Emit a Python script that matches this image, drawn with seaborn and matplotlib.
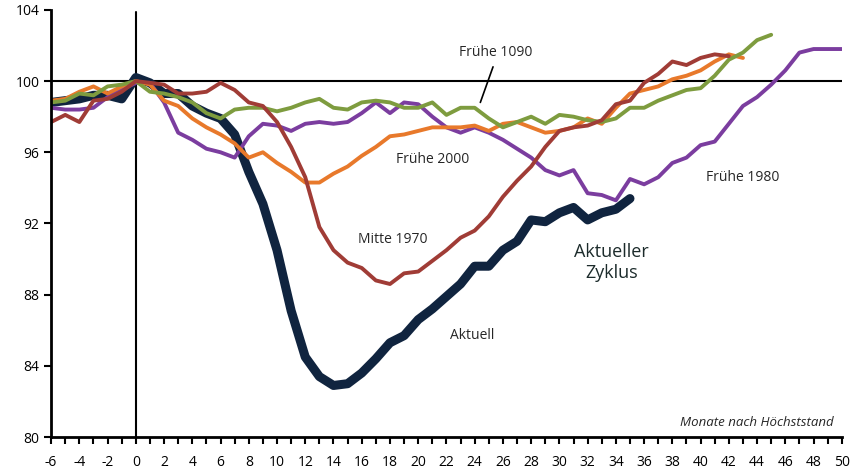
import numpy as np
import pandas as pd
import matplotlib
matplotlib.use("Agg")
import matplotlib.pyplot as plt
import seaborn as sns
from matplotlib.ticker import MultipleLocator

# months after peak
months_aktuell = list(range(-6, 36))
aktuell = [98.8, 98.9, 99.0, 99.2, 99.2, 99.0, 100.2, 99.9, 99.3, 99.3, 98.6, 98.2,
           97.9, 97.0, 94.9, 93.1, 90.5, 87.1, 84.5, 83.4, 82.9, 83.0, 83.6, 84.4,
           85.3, 85.7, 86.6, 87.2, 87.9, 88.6, 89.6, 89.6, 90.5, 91.0, 92.2, 92.1,
           92.6, 92.9, 92.2, 92.6, 92.8, 93.4]

months_1970 = list(range(-6, 43))
mitte_1970 = [97.7, 98.1, 97.7, 98.9, 99.0, 99.4, 100.0, 99.9, 99.8, 99.3, 99.3, 99.4,
              99.9, 99.5, 98.8, 98.6, 97.7, 96.3, 94.6, 91.8, 90.5, 89.8, 89.5, 88.8,
              88.6, 89.2, 89.3, 89.9, 90.5, 91.2, 91.6, 92.4, 93.5, 94.4, 95.2, 96.3,
              97.2, 97.4, 97.5, 97.8, 98.7, 98.9, 99.9, 100.4, 101.1, 100.9, 101.3,
              101.5, 101.4]

months_1980 = list(range(-6, 51))
fruehe_1980 = [98.5, 98.4, 98.4, 98.5, 99.1, 99.5, 99.9, 99.9, 98.8, 97.1, 96.7, 96.2,
               96.0, 95.7, 96.9, 97.6, 97.5, 97.2, 97.6, 97.7, 97.6, 97.7, 98.2, 98.8,
               98.2, 98.8, 98.7, 98.0, 97.4, 97.1, 97.4, 97.1, 96.7, 96.2, 95.7, 95.0,
               94.7, 95.0, 93.7, 93.6, 93.3, 94.5, 94.2, 94.6, 95.4, 95.7, 96.4, 96.6,
               97.6, 98.6, 99.1, 99.8, 100.6, 101.6, 101.8, 101.8, 101.8]

months_1090 = list(range(-6, 46))
fruehe_1090 = [98.8, 98.9, 99.3, 99.2, 99.7, 99.8, 100.0, 99.4, 99.3, 99.1, 98.8, 98.2,
               97.9, 98.4, 98.5, 98.5, 98.3, 98.5, 98.8, 99.0, 98.5, 98.4, 98.8, 98.9,
               98.8, 98.5, 98.5, 98.8, 98.1, 98.5, 98.5, 97.9, 97.4, 97.7, 98.0, 97.6,
               98.1, 98.0, 97.8, 97.7, 97.9, 98.5, 98.5, 98.9, 99.2, 99.5, 99.6, 100.3,
               101.2, 101.6, 102.3, 102.6]

months_2000 = list(range(-6, 44))
fruehe_2000 = [98.9, 99.0, 99.4, 99.7, 99.3, 99.7, 100.0, 99.8, 98.9, 98.6, 97.9, 97.4,
               97.0, 96.5, 95.7, 96.0, 95.4, 94.9, 94.3, 94.3, 94.8, 95.2, 95.8, 96.3,
               96.9, 97.0, 97.2, 97.4, 97.4, 97.4, 97.5, 97.2, 97.6, 97.7, 97.4, 97.1,
               97.2, 97.4, 97.9, 97.6, 98.5, 99.3, 99.5, 99.7, 100.1, 100.3, 100.6,
               101.1, 101.5, 101.3]

x_ticks = list(range(-6, 51, 2))
y_ticks = [80, 84, 88, 92, 96, 100, 104]

series = [
    ("Aktuell", months_aktuell, aktuell, "#10243f", 6.5),
    ("Frühe 1980", months_1980, fruehe_1980, "#7b3d9f", 2.8),
    ("Frühe 2000", months_2000, fruehe_2000, "#e8792b", 2.8),
    ("Frühe 1090", months_1090, fruehe_1090, "#7e9c3f", 2.8),
    ("Mitte 1970", months_1970, mitte_1970, "#a03c36", 2.8),
]

sns.set_style("white")
plt.rcParams["font.family"] = ["Open Sans", "DejaVu Sans"]

fig = plt.figure(figsize=(8.52, 4.70), dpi=100)
ax = fig.add_axes([0.060, 0.070, 0.928, 0.909])

for name, xs, ys, color, lw in series:
    df = pd.DataFrame({"monat": xs, "wert": ys})
    sns.lineplot(data=df, x="monat", y="wert", ax=ax, color=color, linewidth=lw,
                 solid_joinstyle="round", solid_capstyle="round")

ax.axhline(100, color="black", linewidth=1.5, zorder=1)
ax.axvline(0, ymin=0, ymax=0.995, color="black", linewidth=1.5, zorder=1)

ax.set_xlim(-6, 50)
ax.set_ylim(80, 104)
ax.set_xticks(x_ticks)
ax.set_xticklabels([str(t) for t in x_ticks])
ax.xaxis.set_minor_locator(MultipleLocator(1))
ax.set_yticks(y_ticks)
ax.tick_params(axis="both", which="both", direction="out", length=5, width=1.5,
               labelsize=10, colors="black", bottom=True, left=True)
ax.tick_params(axis="x", pad=8)
ax.set_xlabel("")
ax.set_ylabel("")
for side in ["top", "right"]:
    ax.spines[side].set_visible(False)
for side in ["left", "bottom"]:
    ax.spines[side].set_color("black")
    ax.spines[side].set_linewidth(2)

ax.text(25.5, 101.6, "Frühe 1090", fontsize=10, ha="center", va="center")
ax.plot([24.4, 25.3], [98.8, 100.8], color="black", linewidth=1.2)
ax.text(21.0, 95.6, "Frühe 2000", fontsize=10, ha="center", va="center")
ax.text(18.2, 91.1, "Mitte 1970", fontsize=10, ha="center", va="center")
ax.text(23.8, 85.7, "Aktuell", fontsize=10, ha="center", va="center")
ax.text(43.0, 94.6, "Frühe 1980", fontsize=10, ha="center", va="center")
ax.text(33.7, 89.8, "Aktueller\nZyklus", fontsize=13, ha="center", va="center",
        color="#1c2b2b", linespacing=1.2)
ax.text(49.4, 80.8, "Monate nach Höchststand", fontsize=9.5, style="italic",
        ha="right", va="center")

fig.savefig("out.png", dpi=100)
